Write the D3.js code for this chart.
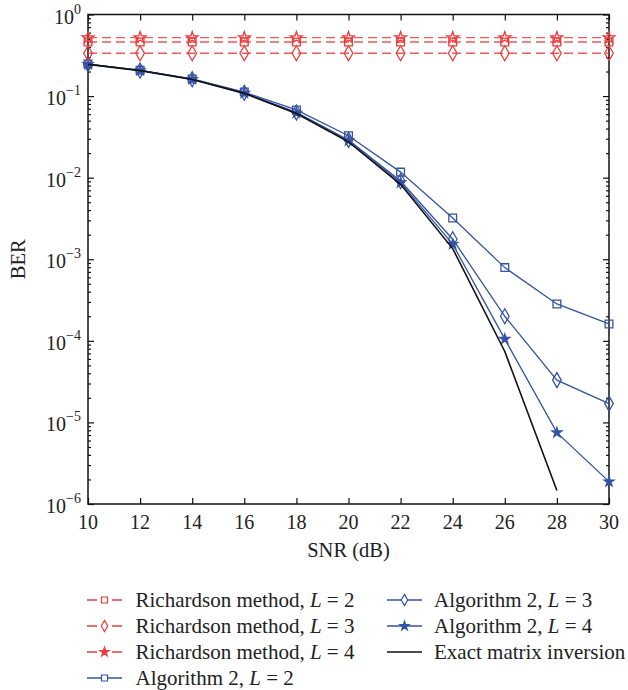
<!DOCTYPE html>
<html><head><meta charset="utf-8">
<script src="https://cdn.jsdelivr.net/npm/d3@7"></script>
<style>body{margin:0;background:#fff}svg{display:block}text{font-family:"Liberation Serif","DejaVu Serif",serif;fill:#222}</style>
</head><body><svg id="c" width="628" height="690"></svg>
<script>
const snr = [10,12,14,16,18,20,22,24,26,28,30];
const richL2 = [0.46,0.46,0.46,0.46,0.46,0.46,0.46,0.46,0.46,0.46,0.46];
const richL3 = [0.335,0.335,0.335,0.335,0.335,0.335,0.335,0.335,0.335,0.335,0.335];
const richL4 = [0.52,0.52,0.52,0.52,0.52,0.52,0.52,0.52,0.52,0.52,0.52];
const algL2 = [0.247,0.207,0.162,0.112,0.0676,0.0327,0.0117,0.0032,0.00079,0.000283,0.000161];
const algL3 = [0.246,0.206,0.161,0.110,0.0630,0.0290,0.0091,0.00176,0.00020,0.000033,0.000017];
const algL4 = [0.246,0.206,0.161,0.109,0.0620,0.0285,0.0087,0.00153,0.000105,0.0000075,0.00000188];
const exactSnr = [10,12,14,16,18,20,22,24,26,28];
const exact = [0.245,0.205,0.160,0.108,0.0610,0.0275,0.0083,0.00135,0.000074,0.00000146];
const xTicks = [10,12,14,16,18,20,22,24,26,28,30];
const yTickExp = [0,-1,-2,-3,-4,-5,-6];

(function(){
const RED = "#f03c3c", BLUE = "#3553a5";
const svg = d3.select("#c");
const L = 88, R = 609, T = 14.5, B = 504;
const x = d3.scaleLinear().domain([10,30]).range([L,R]);
const y = d3.scaleLog().domain([1e-6,1]).range([B,T]);

const minors = [];
for (let e=-6;e<0;e++) for (let m=2;m<=9;m++) minors.push(m*Math.pow(10,e));
const g = svg.append("g");
const majors = yTickExp.map(e=>Math.pow(10,e));
g.append("g").attr("transform",`translate(${L},0)`).call(d3.axisLeft(y).tickValues(majors).tickSize(-6).tickFormat(""));
g.append("g").attr("transform",`translate(${L},0)`).call(d3.axisLeft(y).tickValues(minors).tickSize(-3).tickFormat(""));
g.append("g").attr("transform",`translate(${R},0)`).call(d3.axisRight(y).tickValues(majors).tickSize(-6).tickFormat(""));
g.append("g").attr("transform",`translate(${R},0)`).call(d3.axisRight(y).tickValues(minors).tickSize(-3).tickFormat(""));
g.append("g").attr("transform",`translate(0,${B})`).call(d3.axisBottom(x).tickValues(xTicks).tickSize(-6).tickFormat(""));
g.append("g").attr("transform",`translate(0,${T})`).call(d3.axisTop(x).tickValues(xTicks).tickSize(-6).tickFormat(""));
g.selectAll(".domain").remove();
g.selectAll(".tick line").attr("stroke","#111").attr("stroke-width",1.2);
svg.append("rect").attr("x",L).attr("y",T).attr("width",R-L).attr("height",B-T)
  .attr("fill","none").attr("stroke","#111").attr("stroke-width",1.5);

xTicks.forEach(v=>{
  svg.append("text").attr("x",x(v)).attr("y",B+25).attr("text-anchor","middle").attr("font-size",20).text(v);
});
yTickExp.forEach(e=>{
  const t = svg.append("text").attr("x",L-7).attr("y",y(Math.pow(10,e))+9).attr("text-anchor","end").attr("font-size",20);
  t.append("tspan").text("10");
  t.append("tspan").attr("dy",-10).attr("font-size",14).text(e===0?"0":"\u2212"+(-e));
});
svg.append("text").attr("x",(L+R)/2).attr("y",557).attr("text-anchor","middle").attr("font-size",20.5).text("SNR (dB)");
svg.append("text").attr("transform",`translate(25,${(T+B)/2}) rotate(-90)`).attr("text-anchor","middle").attr("font-size",20.5).text("BER");

const types = {square:d3.symbolSquare, diamond:d3.symbolDiamond, star:d3.symbolStar};
const line = d3.line().x(d=>x(d[0])).y(d=>y(d[1]));
const series = [
  {name:"Richardson method, ", L:"2", xs:snr, ys:richL2, color:RED, dash:"9,5", marker:"square", size:60, fill:null},
  {name:"Richardson method, ", L:"3", xs:snr, ys:richL3, color:RED, dash:"9,5", marker:"diamond", size:65, fill:null},
  {name:"Richardson method, ", L:"4", xs:snr, ys:richL4, color:RED, dash:"9,5", marker:"star", size:42, fill:null},
  {name:"Algorithm 2, ", L:"2", xs:snr, ys:algL2, color:BLUE, dash:null, marker:"square", size:60, fill:null},
  {name:"Algorithm 2, ", L:"3", xs:snr, ys:algL3, color:BLUE, dash:null, marker:"diamond", size:65, fill:null},
  {name:"Algorithm 2, ", L:"4", xs:snr, ys:algL4, color:BLUE, dash:null, marker:"star", size:30, fill:BLUE},
  {name:"Exact matrix inversion", L:null, xs:exactSnr, ys:exact, color:"#111", dash:null, marker:null, fill:null}
];
const plot = svg.append("g");
[3,4,5,6,0,1,2].forEach(i=>{
  const s = series[i];
  const pts = s.xs.map((v,k)=>[v,s.ys[k]]);
  plot.append("path").attr("d",line(pts)).attr("fill","none").attr("stroke",s.color)
    .attr("stroke-width",s.marker?1.3:1.6).attr("stroke-dasharray",s.dash)
    .attr("stroke-opacity",s.color===RED?0.85:1);
  if (s.marker) plot.selectAll(null).data(pts).enter().append("path")
    .attr("d",d3.symbol().type(types[s.marker]).size(s.size)())
    .attr("transform",d=>`translate(${x(d[0])},${y(d[1])})`)
    .attr("fill",s.fill||"none").attr("stroke",s.color).attr("stroke-width",1.3);
});

const legendPos = [[87,600],[87,626],[87,652],[87,678],[387,600],[387,626],[387,652]];
series.forEach((s,i)=>{
  const [lx,ly] = legendPos[i];
  const lg = svg.append("g").attr("transform",`translate(${lx},${ly})`);
  lg.append("line").attr("x1",0).attr("x2",35).attr("y1",0).attr("y2",0).attr("stroke",s.color)
    .attr("stroke-width",1.4).attr("stroke-dasharray",s.dash?"10,15":null);
  if (s.marker) lg.append("path").attr("d",d3.symbol().type(types[s.marker]).size(s.marker==="star"?26:36)())
    .attr("transform","translate(17.5,0)").attr("fill",s.marker==="star"?s.color:"#fff").attr("stroke",s.color).attr("stroke-width",1.2);
  const t = lg.append("text").attr("x",i<4?48.5:47).attr("y",7).attr("font-size",21);
  t.append("tspan").text(s.name);
  if (s.L) { t.append("tspan").attr("font-style","italic").text("L"); t.append("tspan").text(" = "+s.L); }
});
})();
</script></body></html>
